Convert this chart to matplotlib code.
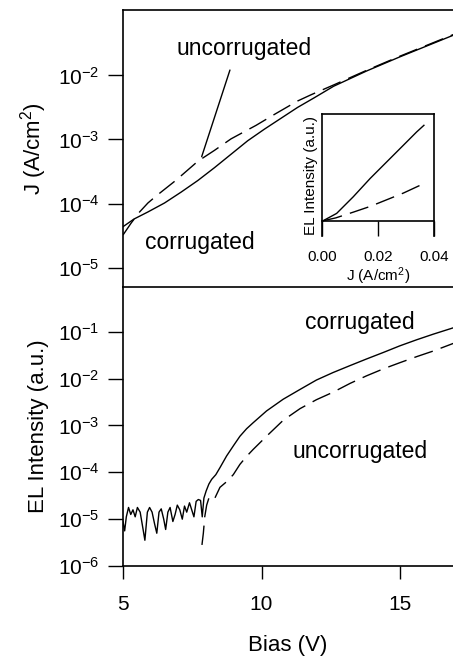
import numpy as np
import matplotlib
matplotlib.use("Agg")
from matplotlib import pyplot as plt
from matplotlib import ticker

plt.rcParams['font.family'] = ['Liberation Sans', 'DejaVu Sans']
plt.rcParams['mathtext.fontset'] = 'custom'
plt.rcParams['mathtext.rm'] = 'Liberation Sans'
plt.rcParams['mathtext.it'] = 'Liberation Sans:italic'
plt.rcParams['axes.linewidth'] = 1.2

# ---- datos (log10 de los valores) ----
# panel superior: J vs Bias
V_J_corr = [5.0, 5.4, 5.9, 6.5, 7.1, 7.7, 8.3, 8.9, 9.5, 10.1, 10.7, 11.3, 11.9, 12.6, 13.8, 15.0, 16.2, 17.0]
logJ_corr = [-4.36, -4.24, -4.13, -3.99, -3.82, -3.64, -3.44, -3.23, -3.02, -2.84, -2.67, -2.50, -2.35, -2.17, -1.93, -1.71, -1.50, -1.36]

V_J_uncorr = [5.0, 5.3, 5.6, 5.9, 6.2, 6.9, 7.7, 8.3, 8.9, 9.8, 10.5, 11.3, 11.8, 12.6, 13.8, 15.0, 16.2, 17.0]
logJ_uncorr = [-4.49, -4.30, -4.13, -3.99, -3.88, -3.64, -3.34, -3.17, -2.99, -2.78, -2.60, -2.40, -2.30, -2.15, -1.92, -1.70, -1.49, -1.35]

# panel inferior: EL vs Bias
V_EL_corr = [5.00, 5.06, 5.12, 5.20, 5.28, 5.36, 5.44, 5.52, 5.62, 5.72, 5.79, 5.88, 5.96, 6.05, 6.14, 6.22,
             6.30, 6.38, 6.47, 6.54, 6.62, 6.70, 6.80, 6.88, 6.96, 7.05, 7.14, 7.22, 7.30, 7.40, 7.48, 7.56,
             7.64, 7.72, 7.80, 7.86, 7.92, 8.00, 8.10, 8.20, 8.35, 8.50, 8.74, 9.00, 9.22, 9.46, 9.70, 10.18,
             10.78, 11.39, 11.98, 12.58, 13.2, 13.79, 14.4, 14.99, 15.6, 16.2, 17.0]
logEL_corr = [-5.05, -5.25, -4.95, -4.75, -4.90, -4.80, -4.95, -4.75, -4.85, -5.20, -5.45, -4.85, -4.75, -4.85, -5.10, -5.30,
              -4.85, -4.78, -5.00, -5.22, -4.85, -4.75, -5.05, -4.90, -4.70, -4.80, -5.00, -4.72, -4.85, -4.65, -4.80, -4.95,
              -4.62, -4.58, -4.60, -4.95, -4.55, -4.40, -4.25, -4.15, -4.05, -3.90, -3.65, -3.42, -3.23, -3.07, -2.94, -2.69,
              -2.44, -2.23, -2.03, -1.87, -1.72, -1.58, -1.44, -1.30, -1.17, -1.05, -0.90]

V_EL_uncorr = [7.85, 7.90, 7.95, 8.02, 8.10, 8.20, 8.30, 8.50, 8.74, 8.98, 9.22, 9.46, 9.70, 10.18, 10.78,
               11.39, 11.98, 12.58, 13.2, 13.79, 14.4, 14.99, 15.6, 16.2, 17.0]
logEL_uncorr = [-5.55, -5.30, -4.95, -4.70, -4.55, -4.52, -4.57, -4.32, -4.20, -4.05, -3.83, -3.66, -3.51, -3.23, -2.89,
                -2.64, -2.45, -2.29, -2.10, -1.94, -1.79, -1.66, -1.53, -1.41, -1.23]

# inset: EL (u.a.) vs J
J_in_corr = [0.0005, 0.0053, 0.0112, 0.0172, 0.0231, 0.0290, 0.0337, 0.0363]
EL_in_corr = [0.0, 0.077, 0.251, 0.443, 0.617, 0.791, 0.930, 1.0]
J_in_uncorr = [0.0005, 0.005, 0.0112, 0.0172, 0.0231, 0.0290, 0.0363]
EL_in_uncorr = [0.0, 0.03, 0.09, 0.15, 0.22, 0.29, 0.39]

yticks_J = [1e-5, 1e-4, 1e-3, 1e-2]
yticks_EL = [1e-6, 1e-5, 1e-4, 1e-3, 1e-2, 1e-1]
xticks_bias = [5, 10, 15]

dash = (0, (14, 6))

def exp_fmt(v, pos):
    return r'$10^{%d}$' % int(round(np.log10(v)))

fig = plt.figure(figsize=(4.53, 6.6), dpi=100)

# ---------- panel superior ----------
ax1 = fig.add_axes([0.2715, 0.5652, 0.7285, 0.4197])
ax1.semilogy(V_J_corr, 10 ** np.array(logJ_corr), color="black", lw=1.0)
ax1.semilogy(V_J_uncorr, 10 ** np.array(logJ_uncorr), color="black", lw=1.0, ls=dash)
ax1.set_xlim(5, 16.91)
ax1.set_ylim(10 ** -5.3, 10 ** -0.98)
ax1.set_yticks(yticks_J)
ax1.yaxis.set_major_formatter(ticker.FuncFormatter(exp_fmt))
ax1.yaxis.set_minor_locator(ticker.NullLocator())
ax1.tick_params(axis="y", direction="out", length=11, width=1.0, labelsize=15, pad=6)
ax1.tick_params(axis="x", bottom=False, labelbottom=False)
ax1.spines["right"].set_visible(False)
ax1.spines["bottom"].set_visible(False)
ax1.set_ylabel("J (A/cm$^2$)", fontsize=16, labelpad=6)

ax1.text(9.37, 10 ** -1.575, "uncorrugated", fontsize=16.5, ha="center", va="center")
ax1.annotate("", xy=(7.84, 10 ** -3.268), xytext=(8.86, 10 ** -1.917),
             arrowprops=dict(arrowstyle="-", lw=1.0, color="black", shrinkA=0, shrinkB=0))
ax1.text(7.76, 10 ** -4.612, "corrugated", fontsize=16.5, ha="center", va="center")

# ---------- panel inferior ----------
ax2 = fig.add_axes([0.2715, 0.1424, 0.7285, 0.4228])
ax2.semilogy(V_EL_corr, 10 ** np.array(logEL_corr), color="black", lw=1.0)
ax2.semilogy(V_EL_uncorr, 10 ** np.array(logEL_uncorr), color="black", lw=1.0, ls=dash)
ax2.set_xlim(5, 16.91)
ax2.set_ylim(1e-6, 10 ** -0.043)
ax2.set_yticks(yticks_EL)
ax2.set_xticks(xticks_bias)
ax2.yaxis.set_major_formatter(ticker.FuncFormatter(exp_fmt))
ax2.yaxis.set_minor_locator(ticker.NullLocator())
ax2.tick_params(axis="y", direction="out", length=11, width=1.0, labelsize=15, pad=6)
ax2.tick_params(axis="x", direction="out", length=9, width=1.0, labelsize=15, pad=12)
ax2.spines["right"].set_visible(False)
ax2.set_ylabel("EL Intensity (a.u.)", fontsize=16, labelpad=6)
ax2.set_xlabel("Bias (V)", fontsize=16, labelpad=15)

ax2.text(13.56, 10 ** -0.799, "corrugated", fontsize=16.5, ha="center", va="center")
ax2.text(13.57, 10 ** -3.548, "uncorrugated", fontsize=16.5, ha="center", va="center")

# ---------- inset ----------
ax3 = fig.add_axes([0.7102, 0.6424, 0.2486, 0.1848])
ax3.plot(J_in_corr, EL_in_corr, color="black", lw=1.0)
ax3.plot(J_in_uncorr, EL_in_uncorr, color="black", lw=1.0, ls=dash)
ax3.set_xlim(0, 0.04)
ax3.set_ylim(-0.16, 1.118)
ax3.spines["bottom"].set_position(("data", 0))
ax3.set_xticks([0.0, 0.02, 0.04])
ax3.set_xticklabels(["0.00", "0.02", "0.04"])
ax3.set_yticks([])
ax3.tick_params(axis="x", direction="out", length=11, width=1.0, labelsize=11, pad=10)
ax3.set_ylabel("EL Intensity (a.u.)", fontsize=11, labelpad=3)
ax3.set_xlabel("J (A/cm$^2$)", fontsize=11, labelpad=1)

plt.savefig("out.png", dpi=100)
